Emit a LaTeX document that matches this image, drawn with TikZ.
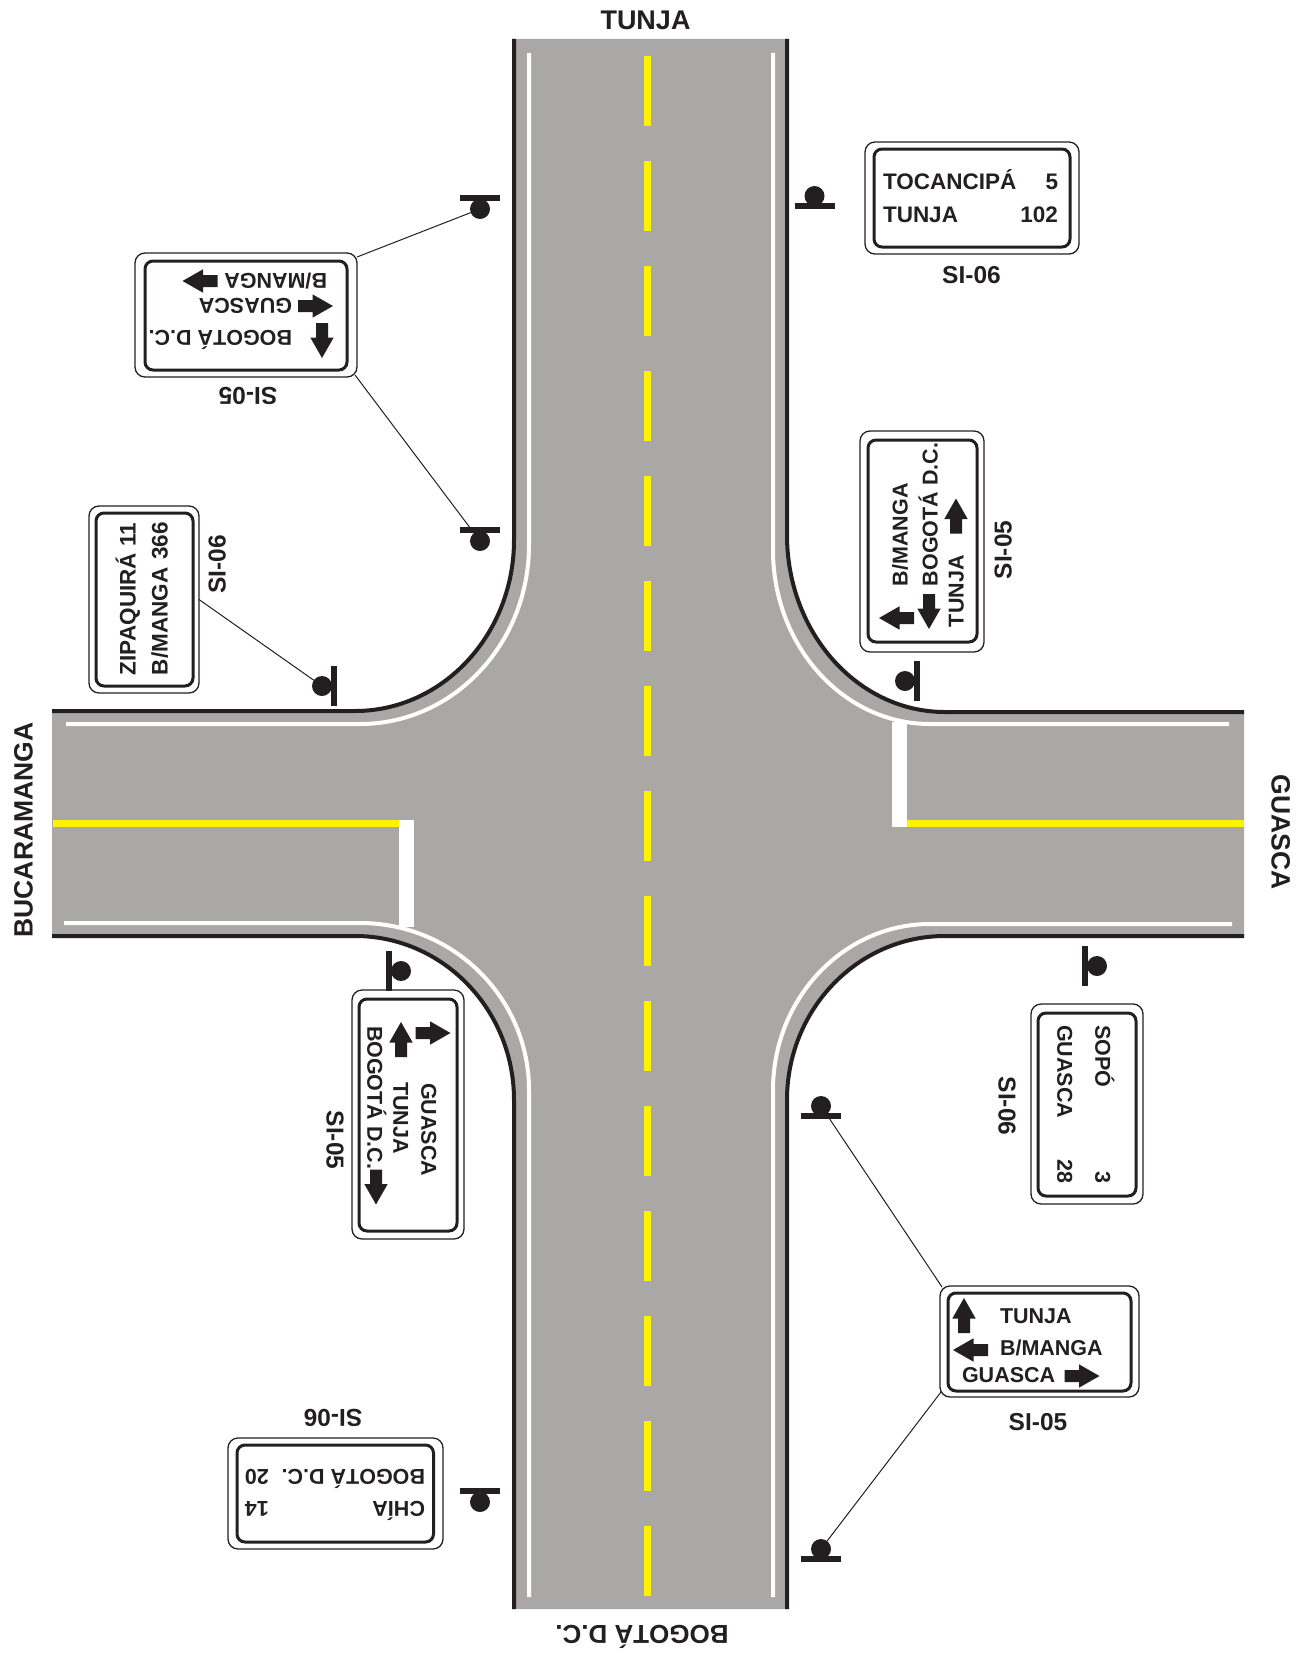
\documentclass[tikz,border=0pt]{standalone}
\usepackage{fontspec}
\setmainfont{Liberation Sans}
\definecolor{ink}{HTML}{231F20}
\definecolor{asphalt}{HTML}{A9A8A6}
\definecolor{lineyellow}{HTML}{FFF200}
\tikzset{
  signouter/.style={draw=ink,fill=white,line width=1.3pt,rounded corners=10pt,inner sep=0pt,outer sep=0pt},
  signinner/.style={draw=ink,fill=white,line width=3pt,rounded corners=8pt,inner sep=0pt,outer sep=0pt},
  sgn/.style={inner sep=0pt,outer sep=0pt,text=ink,text height=15.4pt,text depth=0pt,font=\bfseries\fontsize{21.5}{21.5}\selectfont},
  sgnwide/.style={sgn,font=\bfseries\fontsize{22.5}{22.5}\selectfont},
  code/.style={inner sep=0pt,outer sep=0pt,text=ink,text height=17pt,text depth=0pt,font=\bfseries\fontsize{24.5}{24.5}\selectfont},
  place/.style={inner sep=0pt,outer sep=0pt,text=ink,text height=19pt,text depth=0pt,font=\bfseries\fontsize{26.5}{26.5}\selectfont},
  postdot/.style={circle,fill=ink,minimum size=20pt,inner sep=0pt,outer sep=0pt},
  hbar/.style={rectangle,fill=ink,minimum width=40pt,minimum height=6pt,inner sep=0pt,outer sep=0pt},
  vbar/.style={rectangle,fill=ink,minimum width=6pt,minimum height=40pt,inner sep=0pt,outer sep=0pt},
  conn/.style={draw=ink,line width=1pt},
  edgeline/.style={draw=ink,line width=4pt},
  whiteline/.style={draw=white,line width=4pt},
  arw/.pic={\fill[ink] (-17.5,-6)--(-3,-6)--(-3,-11.7)--(17.5,0)--(-3,11.7)--(-3,6)--(-17.5,6)--cycle;}
}
\newcommand{\signbox}[9]{%
  \pgfmathsetmacro{\cxa}{(#2+#4)/2}\pgfmathsetmacro{\cya}{(#3+#5)/2}%
  \pgfmathsetmacro{\wa}{#4-#2}\pgfmathsetmacro{\ha}{#5-#3}%
  \pgfmathsetmacro{\cxb}{(#6+#8)/2}\pgfmathsetmacro{\cyb}{(#7+#9)/2}%
  \pgfmathsetmacro{\wb}{#8-#6}\pgfmathsetmacro{\hb}{#9-#7}%
  \node[signouter,minimum width=\wa pt,minimum height=\ha pt] (#1) at (\cxa,\cya) {};%
  \node[signinner,minimum width=\wb pt,minimum height=\hb pt] (#1in) at (\cxb,\cyb) {};%
}
\begin{document}
\begin{tikzpicture}[x=1pt,y=-1pt]
\useasboundingbox (0,0) rectangle (1308,1654);
% road surface
\fill[asphalt] (514,39) -- (787,39) -- (787,535)
  .. controls (787,632.8) and (857.7,712) .. (945,712)
  -- (1244,712) -- (1244,936) -- (945,936)
  .. controls (857.7,936) and (787,1009.4) .. (787,1100)
  -- (787,1609) -- (514,1609) -- (514,1100)
  .. controls (514,1009.4) and (442.8,936) .. (355,936)
  -- (52,936) -- (52,711) -- (355,711)
  .. controls (442.8,711) and (514,634.4) .. (514,540) -- cycle;
% kerb lines
\draw[edgeline] (514,39) -- (514,540) .. controls (514,634.4) and (442.8,711) .. (355,711) -- (52,711);
\draw[edgeline] (787,39) -- (787,535) .. controls (787,632.8) and (857.7,712) .. (945,712) -- (1244,712);
\draw[edgeline] (52,936) -- (355,936) .. controls (442.8,936) and (514,1009.4) .. (514,1100) -- (514,1609);
\draw[edgeline] (1244,936) -- (945,936) .. controls (857.7,936) and (787,1009.4) .. (787,1100) -- (787,1609);
% white edge lines
\draw[whiteline] (529,53) -- (529,545) .. controls (529,643.9) and (453.3,724) .. (360,724) -- (66,724);
\draw[whiteline] (773,53) -- (773,550) .. controls (773,646.1) and (843.3,724) .. (930,724) -- (1229,724);
\draw[whiteline] (64,923) -- (360,923) .. controls (453.3,923) and (529,997.8) .. (529,1090) -- (529,1597);
\draw[whiteline] (1232,924) -- (930,924) .. controls (843.6,924) and (773,998.3) .. (773,1090) -- (773,1597);
% stop bars
\fill[white] (892,722) rectangle (907,827);
\fill[white] (399,820) rectangle (414,927);
% yellow lines
\fill[lineyellow] (907,819.5) rectangle (1244,826.5);
\fill[lineyellow] (53,819.5) rectangle (399,826.5);
\foreach \n in {0,...,14}{\fill[lineyellow] (644,56+105*\n) rectangle (651,126+105*\n);}
% place names
\node[place,font=\bfseries\fontsize{27}{27}\selectfont] (ntunja) at (645.5,20) {TUNJA};
\node[place,rotate=180,font=\bfseries\fontsize{26}{26}\selectfont] (nbog) at (642,1635) {BOGOTÁ D.C.};
\node[place,rotate=90] (nbuc) at (23,830) {BUCARAMANGA};
\node[place,rotate=-90] (ngua) at (1281,832) {GUASCA};
% sign top right
\signbox{sA}{865}{142}{1079}{254}{874}{149}{1070}{247}
\node[sgnwide,anchor=west] (sAa) at (883,182) {TOCANCIPÁ};
\node[sgnwide,anchor=east] (sAb) at (1058,182) {5};
\node[sgnwide,anchor=west] (sAc) at (883,215) {TUNJA};
\node[sgnwide,anchor=east] (sAd) at (1058,215) {102};
\node[code] (sAl) at (971.5,275) {SI-06};
% sign top left
\signbox{sB}{135}{253}{357}{377}{145}{261}{347}{370}
\node[sgn,rotate=180,anchor=west] (sBa) at (327,281) {B/MANGA};
\node[sgn,rotate=180,anchor=west] (sBb) at (292,306) {GUASCA};
\node[sgn,rotate=180,anchor=west] (sBc) at (292,338) {BOGOTÁ D.C.};
\pic[rotate=180] at (200,281) {arw};
\pic at (315.5,306) {arw};
\pic[rotate=-90] at (322,340.5) {arw};
\node[code,rotate=180] (sBl) at (248,396) {SI-05};
% sign left
\signbox{sC}{89}{506}{199}{693}{96}{513}{193}{686}
\node[sgnwide,rotate=90,anchor=west] (sCa) at (128,675) {ZIPAQUIRÁ 11};
\node[sgnwide,rotate=90,anchor=west] (sCb) at (160,675) {B/MANGA\hspace{8pt}366};
\node[code,rotate=90] (sCl) at (217,564.5) {SI-06};
% sign NE corner
\signbox{sD}{860}{431}{984}{652}{868}{440}{977}{642}
\node[sgn,rotate=90,anchor=west] (sDa) at (900,586) {B/MANGA};
\node[sgn,rotate=90,anchor=west] (sDb) at (930,586) {BOGOTÁ D.C.};
\node[sgn,rotate=90,anchor=west] (sDc) at (956,627) {TUNJA};
\pic[rotate=180] at (896.5,618) {arw};
\pic[rotate=-90] at (929,611.5) {arw};
\pic[rotate=90] at (956,516) {arw};
\node[code,rotate=90] (sDl) at (1003,550) {SI-05};
% sign SW corner
\signbox{sE}{352}{990}{464}{1239}{359}{999}{457}{1231}
\node[sgn,rotate=-90,anchor=west] (sEa) at (429,1083) {GUASCA};
\node[sgn,rotate=-90,anchor=west] (sEb) at (401,1082) {TUNJA};
\node[sgn,rotate=-90,anchor=west] (sEc) at (375,1026) {BOGOTÁ D.C.};
\pic at (433,1033) {arw};
\pic[rotate=90] at (401,1039.5) {arw};
\pic[rotate=-90] at (376,1187) {arw};
\node[code,rotate=-90] (sEl) at (335,1140) {SI-05};
% sign right
\signbox{sF}{1031}{1004}{1143}{1204}{1038}{1013}{1136}{1196}
\node[sgn,rotate=-90,anchor=west] (sFa) at (1103,1025) {SOPÓ};
\node[sgn,rotate=-90,anchor=west] (sFb) at (1065,1025) {GUASCA};
\node[sgn,rotate=-90,anchor=east] (sFc) at (1103,1183) {3};
\node[sgn,rotate=-90,anchor=east] (sFd) at (1065,1183) {28};
\node[code,rotate=-90] (sFl) at (1007,1106) {SI-06};
% sign bottom right
\signbox{sG}{940}{1286}{1139}{1397}{948}{1293}{1131}{1391}
\node[sgn,anchor=west] (sGa) at (1000,1316) {TUNJA};
\node[sgn,anchor=west] (sGb) at (1000,1348) {B/MANGA};
\node[sgn,anchor=west] (sGc) at (962,1375) {GUASCA};
\pic[rotate=90] at (964,1315.5) {arw};
\pic[rotate=180] at (970.5,1350) {arw};
\pic at (1082,1376) {arw};
\node[code] (sGl) at (1038,1422) {SI-05};
% sign bottom left
\signbox{sH}{228}{1438}{443}{1549}{237}{1445}{433.5}{1542}
\node[sgn,rotate=180,anchor=west] (sHa) at (425,1477) {BOGOTÁ D.C.};
\node[sgn,rotate=180,anchor=east] (sHb) at (245,1477) {20};
\node[sgn,rotate=180,anchor=west] (sHc) at (425,1509) {CHÍA};
\node[sgn,rotate=180,anchor=east] (sHd) at (245,1509) {14};
\node[code,rotate=180] (sHl) at (333,1418) {SI-06};
% posts
\node[hbar] (p1b) at (480,198) {}; \node[postdot] (p1) at (480,209) {};
\node[hbar] (p2b) at (480,530) {}; \node[postdot] (p2) at (480,541) {};
\node[vbar] (p3b) at (334,686) {}; \node[postdot] (p3) at (322,686) {};
\node[hbar] (p4b) at (814.5,206) {}; \node[postdot] (p4) at (814.5,196) {};
\node[vbar] (p5b) at (917,681) {}; \node[postdot] (p5) at (905,681) {};
\node[vbar] (p6b) at (389,971) {}; \node[postdot] (p6) at (401,971) {};
\node[vbar] (p7b) at (1085,966) {}; \node[postdot] (p7) at (1097,966) {};
\node[hbar] (p8b) at (821,1116) {}; \node[postdot] (p8) at (821,1106) {};
\node[hbar] (p9b) at (821,1559) {}; \node[postdot] (p9) at (821,1549) {};
\node[hbar] (p10b) at (480,1491) {}; \node[postdot] (p10) at (480,1502) {};
% connectors
\draw[conn] ([yshift=-4pt]sB.north east) -- (p1);
\draw[conn] ([shift={(-2pt,2pt)}]sB.south east) -- (p2);
\draw[conn] (sC.east) -- (p3);
\draw[conn] ([shift={(2pt,-1pt)}]sG.north west) -- (p8);
\draw[conn] ([shift={(1pt,5pt)}]sG.south west) -- (p9);
\end{tikzpicture}
\end{document}
